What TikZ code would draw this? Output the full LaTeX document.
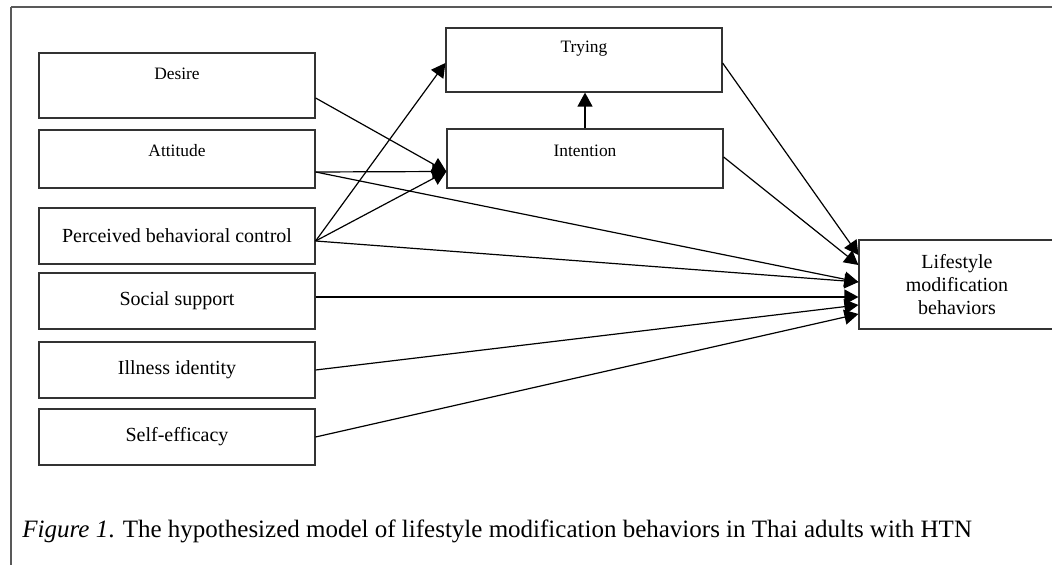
\documentclass[tikz,border=0pt]{standalone}
\usepackage{fontspec}
\setmainfont{Liberation Serif}
\usetikzlibrary{arrows.meta,calc}
\begin{document}
\begin{tikzpicture}[x=0.5pt,y=-0.5pt,
  box/.style={draw=black!80, line width=0.6pt, rectangle, inner sep=0pt,
    minimum width=138pt, font=\fontsize{10}{11.5}\selectfont, align=center},
  smalltext/.style={font=\fontsize{8.7}{10}\selectfont, inner sep=0pt},
  link/.style={line width=0.6pt, -{Triangle[length=7pt,width=7.5pt]}},
  borderline/.style={draw=black!65}]

% page area
\useasboundingbox (0,0) rectangle (1052,565);
\clip (0,0) rectangle (1052,565);
\fill[white] (0,0) rectangle (1052,565);

% open frame: top and left rules
\draw[borderline, line width=1pt] (11,7) -- (1060,7);
\draw[borderline, line width=0.6pt] (11,7) -- (11,570);

% predictor boxes
\node[box, minimum height=32.5pt] (desire)    at (177,85.5) {};
\node[smalltext] (desireL) at (177,74) {Desire};
\node[box, minimum height=29pt]   (attitude)  at (177,159) {};
\node[smalltext] (attitudeL) at (177,151) {Attitude};
\node[box, minimum height=28pt]   (pbc)       at (177,236) {Perceived behavioral control};
\node[box, minimum height=28pt]   (social)    at (177,301) {Social support};
\node[box, minimum height=28pt]   (illness)   at (177,370) {Illness identity};
\node[box, minimum height=28pt]   (selfeff)   at (177,437) {Self-efficacy};

% mediators
\node[box, minimum height=32pt]   (trying)    at (584,60) {};
\node[smalltext] (tryingL) at (584,49) {Trying};
\node[box, minimum height=29.5pt] (intention) at (585,158.5) {};
\node[smalltext] (intentionL) at (585,151) {Intention};

% outcome
\node[box, minimum width=98pt, minimum height=44.5pt] (outcome) at (957,284.5)
  {Lifestyle\\modification\\behaviors};

% attachment points
\coordinate (desOut) at ($(desire.east)+(0,12.5)$);
\coordinate (attOut) at ($(attitude.east)+(0,13)$);
\coordinate (pbcOut) at ($(pbc.east)+(0,5)$);
\coordinate (socOut) at ($(social.east)+(0,-4)$);
\coordinate (intIn)  at ($(intention.west)+(0,13)$);
\coordinate (tryIn)  at ($(trying.west)+(0,3)$);
\coordinate (tryOut) at ($(trying.east)+(0,3)$);
\coordinate (intOut) at ($(intention.east)+(0,-1.5)$);
\coordinate (oTry)   at ($(outcome.west)+(0,-29.5)$);
\coordinate (oInt)   at ($(outcome.west)+(0,-19.5)$);
\coordinate (oAP)    at ($(outcome.west)+(0,-2.5)$);
\coordinate (oSoc)   at ($(outcome.west)+(0,12.5)$);
\coordinate (oIll)   at ($(outcome.west)+(0,20.5)$);
\coordinate (oSelf)  at ($(outcome.west)+(0,29.5)$);

% paths into intention and trying
\draw[link] (desOut) -- (intIn);
\draw[link] (attOut) -- (intIn);
\draw[link] (pbcOut) -- (intIn);
\draw[link] (pbcOut) -- (tryIn);
\draw[link] (intention.north) -- (intention.north |- trying.south);

% paths into the outcome
\draw[link] (tryOut) -- (oTry);
\draw[link] (intOut) -- (oInt);
\draw[link] (attOut) -- (oAP);
\draw[link] (pbcOut) -- (oAP);
\draw[link] (socOut) -- (oSoc);
\draw[link] (illness.east) -- (oIll);
\draw[link] (selfeff.east) -- (oSelf);

% caption
\node[anchor=base west, inner sep=0pt, font=\fontsize{12.5}{14}\selectfont] (caption) at (22,537)
  {\textit{Figure 1}. The hypothesized model of lifestyle modification behaviors in Thai adults with HTN};
\end{tikzpicture}
\end{document}
